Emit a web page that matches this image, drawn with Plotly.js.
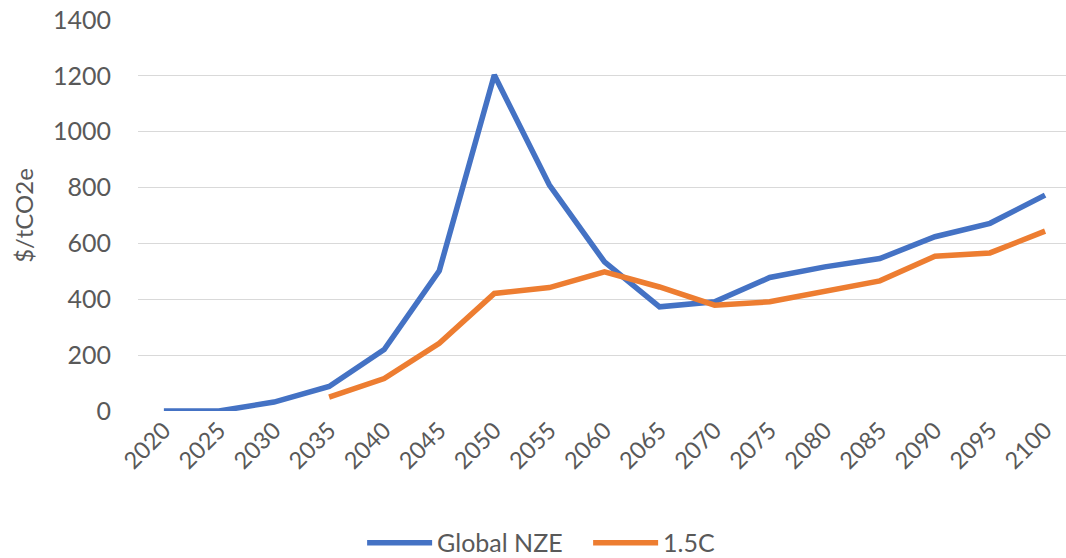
<!DOCTYPE html>
<html>
<head>
<meta charset="utf-8">
<script src="https://cdn.plot.ly/plotly-3.0.1.min.js"></script>
<style>html,body{margin:0;padding:0;background:#fff;}#chart{width:1066px;height:558px;}</style>
</head>
<body>
<div id="chart"></div>
<script>
const years = ["2020","2025","2030","2035","2040","2045","2050","2055","2060","2065","2070","2075","2080","2085","2090","2095","2100"];
const globalNZE = [0, 0, 32, 88, 220, 502, 1203, 809, 534, 373, 391, 478, 516, 546, 624, 672, 773];
const c15 = [null, null, null, 50, 116, 242, 421, 442, 498, 444, 379, 391, 427, 466, 554, 566, 644];
const yTicks = [0, 200, 400, 600, 800, 1000, 1200, 1400];

const font = {family: "Lato, 'Open Sans', sans-serif", color: "#595959"};
const traces = [
  {x: years, y: globalNZE, name: "Global NZE", type: "scatter", mode: "lines",
   line: {color: "#4472C4", width: 5.5}},
  {x: years, y: c15, name: "1.5C", type: "scatter", mode: "lines",
   line: {color: "#ED7D31", width: 5.5}, connectgaps: false}
];
const layout = {
  width: 1066, height: 558,
  margin: {l: 138, r: 0, t: 20, b: 147},
  paper_bgcolor: "#fff", plot_bgcolor: "#fff",
  font: Object.assign({size: 24}, font),
  xaxis: {type: "category", range: [-0.47, 16.38], tickangle: -45,
    showgrid: false, zeroline: false, showline: false, ticks: "",
    tickfont: Object.assign({size: 23.5}, font), automargin: false},
  yaxis: {range: [0, 1400], tickvals: yTicks, gridcolor: "#D9D9D9", gridwidth: 1,
    zeroline: false, showline: false, ticks: "", ticklabelstandoff: 26,
    tickfont: Object.assign({size: 25}, font), automargin: false,
    title: {text: "$/tCO2e", font: Object.assign({size: 24}, font), standoff: 12}},
  showlegend: true,
  legend: {orientation: "h", xref: "container", yref: "container", x: 0.3397, xanchor: "left",
    y: 0.027, yanchor: "middle", font: Object.assign({size: 25}, font), itemwidth: 65,
    entrywidth: 146, traceorder: "normal"}
};
Plotly.newPlot("chart", traces, layout, {displayModeBar: false, staticPlot: true});
</script>
</body>
</html>
